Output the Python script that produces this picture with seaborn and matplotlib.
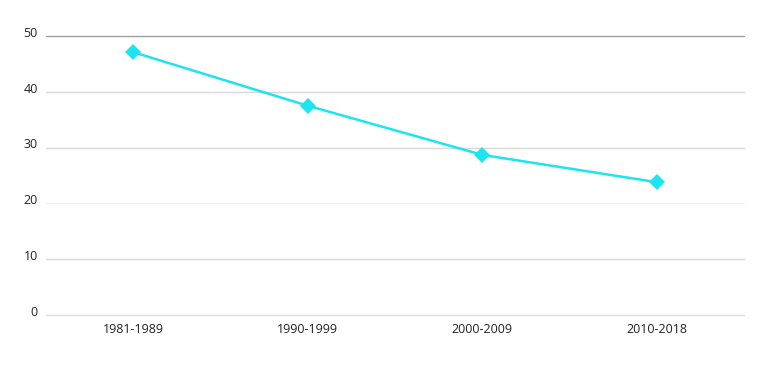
import matplotlib
matplotlib.use("Agg")
import matplotlib.pyplot as plt
import matplotlib.transforms as mtransforms
import seaborn as sns
import pandas as pd

categories = ["1981-1989", "1990-1999", "2000-2009", "2010-2018"]
values = [47.1, 37.5, 28.7, 23.8]
yticks = [0, 10, 20, 30, 40, 50]

sns.set_style("white")
plt.rcParams['font.family'] = ['Open Sans', 'DejaVu Sans']

df = pd.DataFrame({"period": categories, "value": values})

fig = plt.figure(figsize=(7.7, 3.7), dpi=100)
ax = fig.add_axes([46/770, 1-315/370, (744-46)/770, (315-36)/370])

sns.lineplot(data=df, x="period", y="value", ax=ax, color="#1CE5EF",
             linewidth=1.8, marker="D", markersize=8, markeredgewidth=0,
             sort=False, zorder=3)

ax.set_xlim(-0.5, 3.5)
ax.set_ylim(0, 50)
ax.set_yticks(yticks)
ax.set_yticklabels([str(t) for t in yticks])
grid_colors = {0: "#dddddd", 10: "#d9d9d9", 20: "#f0f0f0", 30: "#d9d9d9", 40: "#d9d9d9", 50: "#a0a0a0"}
for t in yticks:
    ln = ax.axhline(t, color=grid_colors[t], linewidth=1, zorder=0)
    ln.set_clip_on(False)
for s in ax.spines.values():
    s.set_visible(False)
ax.tick_params(axis="both", length=0, labelsize=9, colors="#222222")
ax.tick_params(axis="y", pad=6)
ax.tick_params(axis="x", pad=6)
offset = mtransforms.ScaledTranslation(0, 3/72, fig.dpi_scale_trans)
for lab in ax.get_yticklabels():
    lab.set_transform(lab.get_transform() + offset)
ax.set_xlabel("")
ax.set_ylabel("")

fig.savefig("out.png", dpi=100)
